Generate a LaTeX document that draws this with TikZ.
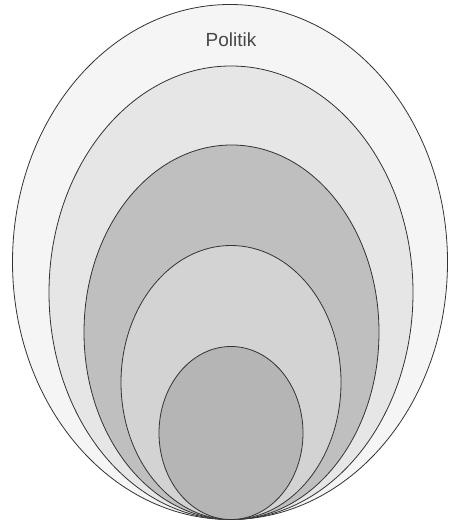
\documentclass[tikz,border=0pt]{standalone}
\usepackage{fontspec}
\setmainfont{Liberation Sans}
\definecolor{cA}{HTML}{F5F5F5}
\definecolor{cB}{HTML}{E6E6E6}
\definecolor{cC}{HTML}{BFBFBF}
\definecolor{cD}{HTML}{D3D3D3}
\definecolor{cE}{HTML}{B5B5B5}
\definecolor{edge}{HTML}{333333}
\tikzset{ring/.style={draw=edge, line width=0.8pt}}
\begin{document}
\begin{tikzpicture}[x=1pt,y=1pt]
\useasboundingbox (0,0) rectangle (448,521);
\filldraw[ring, fill=cA] (230,259) ellipse [x radius=217.5, y radius=257.5];
\filldraw[ring, fill=cB] (231,228.25) ellipse [x radius=182, y radius=226.75];
\filldraw[ring, fill=cC] (231.5,188.75) ellipse [x radius=147.5, y radius=187.25];
\filldraw[ring, fill=cD] (231,138.5) ellipse [x radius=110, y radius=137];
\filldraw[ring, fill=cE] (231,88) ellipse [x radius=72, y radius=86.5];
\node (politik) at (231,481) [text=edge!90, font=\fontsize{19}{22}\selectfont] {Politik};
\end{tikzpicture}
\end{document}
